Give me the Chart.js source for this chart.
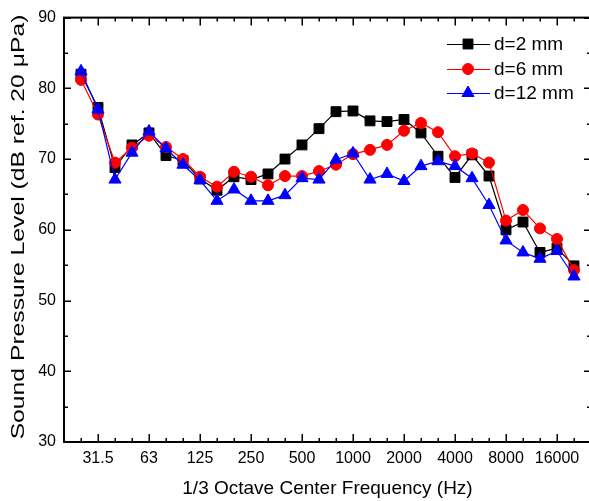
<!DOCTYPE html>
<html>
<head>
<meta charset="utf-8">
<script src="https://cdn.jsdelivr.net/npm/chart.js@4.4.1/dist/chart.umd.min.js"></script>
<style>
html, body { margin: 0; padding: 0; overflow: hidden; background: #fff; }
#wrap { width: 600px; height: 501px; }
</style>
</head>
<body>
<div id="wrap"><canvas id="c" width="600" height="501"></canvas></div>
<script>
// 1/3 octave band centre frequencies that carry data (Hz)
const frequencies = ['25','31.5','40','50','63','80','100','125','160','200','250','315','400','500','630','800','1000','1250','1600','2000','2500','3150','4000','5000','6300','8000','10000','12500','16000','20000'];
// axis categories (one empty band on each side of the data)
const axisBands = ['20', ...frequencies, '25000'];
// labelled x ticks
const tickLabels = ['31.5','63','125','250','500','1000','2000','4000','8000','16000'];

// Sound pressure level (dB ref. 20 µPa)
const d2  = [82.0,77.3,68.8,72.0,73.7,70.5,69.8,67.2,65.6,67.5,67.1,67.9,70.0,72.0,74.3,76.7,76.8,75.4,75.3,75.6,73.7,70.4,67.4,70.6,67.6,60.0,61.1,56.8,57.4,54.9];
const d6  = [81.2,76.3,69.5,71.6,73.3,71.7,70.0,67.5,66.1,68.2,67.5,66.3,67.6,67.6,68.3,69.2,70.7,71.3,72.0,74.0,75.1,73.8,70.4,70.8,69.5,61.3,62.8,60.2,58.7,54.3];
const d12 = [82.4,77.0,67.1,70.9,73.9,71.5,69.2,67.0,64.1,65.7,64.1,64.1,64.9,67.3,67.1,69.9,70.8,67.1,67.9,66.9,69.0,69.7,69.0,67.3,63.5,58.5,56.8,55.9,57.0,53.4];

const seriesNames = ['d=2 mm', 'd=6 mm', 'd=12 mm'];

const FONT = '"Liberation Sans", Arial, Helvetica, sans-serif';

function pts(arr) { return frequencies.map((f, i) => ({ x: f, y: arr[i] })); }

function drawMarker(ctx, style, x, y, r, color) {
  ctx.save();
  ctx.fillStyle = color;
  ctx.strokeStyle = color;
  ctx.lineWidth = 1;
  ctx.beginPath();
  if (style === 'rect') {
    const s = Math.SQRT1_2 * r;
    ctx.rect(x - s, y - s, 2 * s, 2 * s);
  } else if (style === 'circle') {
    ctx.arc(x, y, r, 0, Math.PI * 2);
  } else if (style === 'triangle') {
    let a = 0;
    ctx.moveTo(x + Math.sin(a) * r, y - Math.cos(a) * r);
    a += 2 * Math.PI / 3;
    ctx.lineTo(x + Math.sin(a) * r, y - Math.cos(a) * r);
    a += 2 * Math.PI / 3;
    ctx.lineTo(x + Math.sin(a) * r, y - Math.cos(a) * r);
    ctx.closePath();
  }
  ctx.fill();
  ctx.stroke();
  ctx.restore();
}

const framePlugin = {
  id: 'frame',
  afterDraw(chart) {
    const ctx = chart.ctx;
    const a = chart.chartArea;
    const xs = chart.scales.x, ys = chart.scales.y;
    ctx.save();
    ctx.strokeStyle = '#000';
    // ticks
    ctx.lineWidth = 1.5;
    ctx.beginPath();
    xs.ticks.forEach((t, i) => {
      const px = Math.round(xs.getPixelForTick(i)) + 0.25;
      const major = tickLabels.includes(axisBands[t.value]);
      const len = major ? 8 : 4;
      ctx.moveTo(px, a.bottom); ctx.lineTo(px, a.bottom - len);
      ctx.moveTo(px, a.top); ctx.lineTo(px, a.top + len);
    });
    ys.ticks.forEach((t) => {
      const py = Math.round(ys.getPixelForValue(t.value)) + 0.25;
      const major = t.value % 10 === 0;
      const len = major ? 7 : 4;
      ctx.moveTo(a.left, py); ctx.lineTo(a.left + len, py);
      ctx.moveTo(a.right, py); ctx.lineTo(a.right - len, py);
    });
    ctx.stroke();
    // frame
    ctx.lineWidth = 2;
    ctx.strokeRect(a.left, a.top, a.right - a.left, a.bottom - a.top);

    // legend
    const lx0 = 447, lx1 = 490, mx = 468, tx = 494;
    const rows = [44, 69, 93];
    chart.data.datasets.forEach((ds, i) => {
      const y = rows[i];
      ctx.lineWidth = 1.2;
      ctx.strokeStyle = ds.borderColor;
      ctx.beginPath();
      ctx.moveTo(lx0, y + 0.5); ctx.lineTo(lx1, y + 0.5);
      ctx.stroke();
      drawMarker(ctx, ds.pointStyle, mx, y, ds.pointRadius, ds.pointBackgroundColor);
      ctx.fillStyle = '#000';
      ctx.font = '19px ' + FONT;
      ctx.textAlign = 'left';
      ctx.textBaseline = 'middle';
      ctx.fillText(ds.label, tx, y + 1);
    });

    // y axis title (drawn stretched along its length like the reference)
    ctx.save();
    ctx.translate(19, 227);
    ctx.rotate(-Math.PI / 2);
    ctx.scale(1.3, 1);
    ctx.font = '19px ' + FONT;
    ctx.fillStyle = '#000';
    ctx.textAlign = 'center';
    ctx.textBaseline = 'middle';
    ctx.fillText('Sound Pressure Level (dB ref. 20 \u03BCPa)', 0, 0);
    ctx.restore();

    ctx.restore();
  }
};

new Chart(document.getElementById('c'), {
  type: 'line',
  data: {
    labels: axisBands,
    datasets: [
      { label: seriesNames[0], data: pts(d2), borderColor: '#000000', backgroundColor: '#000000',
        pointStyle: 'rect', pointRadius: 7, pointBackgroundColor: '#000000', pointBorderColor: '#000000',
        pointBorderWidth: 1, borderWidth: 1.2, order: 3 },
      { label: seriesNames[1], data: pts(d6), borderColor: '#ff0000', backgroundColor: '#ff0000',
        pointStyle: 'circle', pointRadius: 5.5, pointBackgroundColor: '#ff0000', pointBorderColor: '#ff0000',
        pointBorderWidth: 1, borderWidth: 1.2, order: 2 },
      { label: seriesNames[2], data: pts(d12), borderColor: '#0000ff', backgroundColor: '#0000ff',
        pointStyle: 'triangle', pointRadius: 7, pointBackgroundColor: '#0000ff', pointBorderColor: '#0000ff',
        pointBorderWidth: 1, borderWidth: 1.2, order: 1 }
    ]
  },
  options: {
    responsive: false,
    animation: false,
    devicePixelRatio: 1,
    layout: { padding: { left: 0, right: 9, top: 16, bottom: 0 } },
    plugins: { legend: { display: false }, tooltip: { enabled: false } },
    elements: { line: { tension: 0 } },
    scales: {
      x: {
        type: 'category',
        offset: false,
        grid: { display: false, drawTicks: false },
        border: { display: false },
        ticks: {
          autoSource: false,
          autoSkip: false,
          maxRotation: 0,
          minRotation: 0,
          padding: 7,
          color: '#000',
          font: { family: FONT, size: 16 },
          callback: function (v) {
            const l = this.getLabelForValue(v);
            return tickLabels.includes(l) ? l : '';
          }
        },
        title: {
          display: true,
          text: '1/3 Octave Center Frequency (Hz)',
          color: '#000',
          font: { family: FONT, size: 19 },
          padding: { top: 0, bottom: 1 }
        },
        afterFit: (s) => { s.height = 59; }
      },
      y: {
        min: 30,
        max: 90,
        grid: { display: false, drawTicks: false },
        border: { display: false },
        ticks: {
          stepSize: 5,
          padding: 8,
          color: '#000',
          font: { family: FONT, size: 16 },
          callback: (v) => (v % 10 === 0 ? String(v) : '')
        },
        afterFit: (s) => { s.width = 64; }
      }
    }
  },
  plugins: [framePlugin]
});
</script>
</body>
</html>
